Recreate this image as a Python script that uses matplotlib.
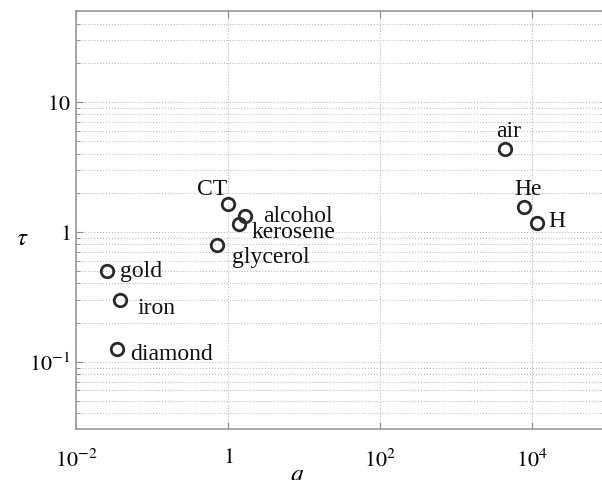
import matplotlib
matplotlib.use("Agg")
import matplotlib.pyplot as plt
from matplotlib.ticker import FixedLocator, LogLocator, NullFormatter

plt.rcParams['font.family'] = ['Liberation Serif', 'DejaVu Serif']
plt.rcParams['mathtext.fontset'] = 'stix'

# Materials, q and tau.
names = ['gold', 'iron', 'diamond', 'glycerol', 'CT', 'alcohol', 'kerosene', 'air', 'He', 'H']
q_vals = [0.0254, 0.038, 0.035, 0.72, 1.0, 1.67, 1.38, 4420, 7850, 11700]
tau_vals = [0.50, 0.30, 0.126, 0.79, 1.635, 1.33, 1.15, 4.34, 1.56, 1.17]

# Label offsets in pixels and alignment.
offsets = {
    'gold': (13, 0, 'left'),
    'iron': (17, -8, 'left'),
    'diamond': (13, -5, 'left'),
    'glycerol': (15, -11, 'left'),
    'CT': (-1, 15, 'right'),
    'alcohol': (18, 0, 'left'),
    'kerosene': (13, -8, 'left'),
    'air': (4, 18, 'center'),
    'He': (4, 18, 'center'),
    'H': (11, 2, 'left'),
}

x_ticks = [1e-2, 1, 1e2, 1e4]
x_labels = [r'$10^{-2}$', r'$1$', r'$10^{2}$', r'$10^{4}$']
y_ticks = [1e-1, 1, 10]
y_labels = [r'$10^{-1}$', r'$1$', r'$10$']

fig = plt.figure(figsize=(6.02, 4.81), dpi=100)
ax = fig.add_axes([76 / 602, 51 / 481, 532 / 602, 418 / 481])
ax.set_xscale('log')
ax.set_yscale('log')
ax.set_xlim(1e-2, 1e5)
ax.set_ylim(0.0303, 50)

ax.plot(q_vals, tau_vals, 'o', ms=9, mfc='none', mec='#2a2a2a', mew=2.0, zorder=3)

for name, q, t in zip(names, q_vals, tau_vals):
    dx, dy, ha = offsets[name]
    ax.annotate(name, (q, t), xytext=(dx, dy), textcoords='offset pixels',
                ha=ha, va='center', fontsize=17, color='#111111')

ax.xaxis.set_major_locator(FixedLocator(x_ticks))
ax.set_xticklabels(x_labels)
ax.xaxis.set_minor_locator(FixedLocator([]))
ax.yaxis.set_major_locator(FixedLocator(y_ticks))
ax.set_yticklabels(y_labels)
ax.yaxis.set_minor_locator(LogLocator(base=10, subs=range(2, 10)))
ax.yaxis.set_minor_formatter(NullFormatter())

ax.tick_params(which='both', direction='in', top=True, right=True, labelsize=16,
               color='#888888')
ax.tick_params(axis='x', which='major', pad=14)
ax.tick_params(axis='y', which='major', pad=4)
ax.tick_params(which='minor', length=3)
ax.tick_params(which='major', length=5)

ax.grid(True, which='major', axis='both', color='#bbbbbb', linestyle=':', linewidth=0.8)
ax.grid(True, which='minor', axis='y', color='#bbbbbb', linestyle=':', linewidth=0.8)

for s in ax.spines.values():
    s.set_color('#999999')
    s.set_linewidth(1.2)

ax.set_xlabel(r'$q$', fontsize=18)
ax.xaxis.set_label_coords((297 - 76) / 532, -0.085)
ax.set_ylabel(r'$\tau$', fontsize=18, rotation=0)
ax.yaxis.set_label_coords(-0.1, 0.43)

fig.savefig('out.png', dpi=100)
